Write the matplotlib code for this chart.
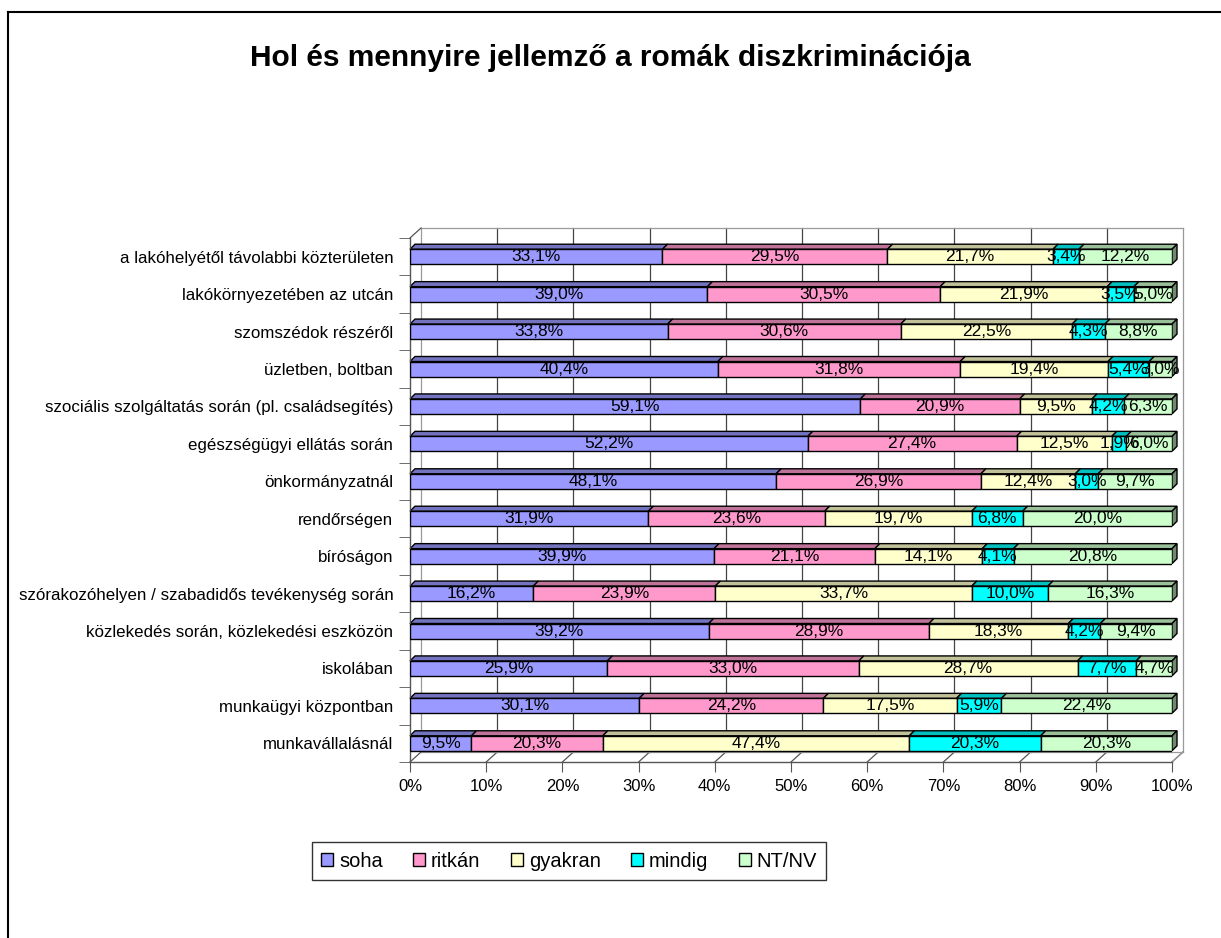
import matplotlib.pyplot as plt
import numpy as np
from matplotlib.patches import Polygon
from matplotlib.lines import Line2D

plt.rcParams['font.family'] = ['Liberation Sans', 'DejaVu Sans']

categories = [
    "a lakóhelyétől távolabbi közterületen",
    "lakókörnyezetében az utcán",
    "szomszédok részéről",
    "üzletben, boltban",
    "szociális szolgáltatás során (pl. családsegítés)",
    "egészségügyi ellátás során",
    "önkormányzatnál",
    "rendőrségen",
    "bíróságon",
    "szórakozóhelyen / szabadidős tevékenység során",
    "közlekedés során, közlekedési eszközön",
    "iskolában",
    "munkaügyi központban",
    "munkavállalásnál",
]
series = ["soha", "ritkán", "gyakran", "mindig", "NT/NV"]
soha = [33.1, 39.0, 33.8, 40.4, 59.1, 52.2, 48.1, 31.9, 39.9, 16.2, 39.2, 25.9, 30.1, 9.5]
ritkan = [29.5, 30.5, 30.6, 31.8, 20.9, 27.4, 26.9, 23.6, 21.1, 23.9, 28.9, 33.0, 24.2, 20.3]
gyakran = [21.7, 21.9, 22.5, 19.4, 9.5, 12.5, 12.4, 19.7, 14.1, 33.7, 18.3, 28.7, 17.5, 47.4]
mindig = [3.4, 3.5, 4.3, 5.4, 4.2, 1.9, 3.0, 6.8, 4.1, 10.0, 4.2, 7.7, 5.9, 20.3]
ntnv = [12.2, 5.0, 8.8, 3.0, 6.3, 6.0, 9.7, 20.0, 20.8, 16.3, 9.4, 4.7, 22.4, 20.3]

colors = ["#9999FF", "#FF99CC", "#FFFFCC", "#00FFFF", "#CCFFCC"]
top_colors = ["#7373c0", "#c07399", "#c0c099", "#00c0c0", "#99c099"]
side_color = "#6f8a6f"

W, H = 1221, 938
fig = plt.figure(figsize=(W / 100, H / 100), dpi=100)

# plot area in pixels (front plane)
x0p, x1p, y0p, y1p = 410, 1172, 238, 762
ax = fig.add_axes([x0p / W, (H - y1p) / H, (x1p - x0p) / W, (y1p - y0p) / H])
n = len(categories)
ax.set_xlim(0, 100)
ax.set_ylim(-0.5, n - 0.5)

# pixel -> data conversion
px_x = 100 / (x1p - x0p)
px_y = n / (y1p - y0p)
wall_dx, wall_dy = 11 * px_x, 10 * px_y
bar_d = 5

data = np.array([soha, ritkan, gyakran, mindig, ntnv])
pct = data / data.sum(axis=0) * 100
ypos = np.arange(n)[::-1]
bh = 15 * px_y

# back wall, floor, left wall
xt = np.arange(0, 101, 10)
ylo, yhi = -0.5, n - 0.5
for x in xt:
    c = "#9a9a9a" if x in (0, 100) else "#444444"
    ax.plot([x + wall_dx, x + wall_dx], [ylo + wall_dy, yhi + wall_dy], color=c, lw=0.9, clip_on=False, zorder=1)
    ax.plot([x, x + wall_dx], [ylo, ylo + wall_dy], color="#555555", lw=0.9, clip_on=False, zorder=1)
ax.plot([wall_dx, 100 + wall_dx], [yhi + wall_dy, yhi + wall_dy], color="#9a9a9a", lw=0.9, clip_on=False, zorder=1)
ax.plot([wall_dx, 100 + wall_dx], [ylo + wall_dy, ylo + wall_dy], color="#9a9a9a", lw=0.9, clip_on=False, zorder=1)
ax.plot([0, wall_dx], [yhi, yhi + wall_dy], color="#555555", lw=0.9, clip_on=False, zorder=1)
ax.plot([100, 100 + wall_dx], [ylo, ylo + wall_dy], color="#9a9a9a", lw=0.9, clip_on=False, zorder=1)

# 3D stacked bars
dx, dy = bar_d * px_x, bar_d * px_y
left = np.zeros(n)
for k in range(len(series)):
    w = pct[k]
    ax.barh(ypos, w, left=left, height=bh, color=colors[k], edgecolor="black", lw=1, zorder=3,
            label=series[k])
    for i in range(n):
        xa, xb = left[i], left[i] + w[i]
        yt = ypos[i] + bh / 2
        ax.add_patch(Polygon([[xa, yt], [xb, yt], [xb + dx, yt + dy], [xa + dx, yt + dy]],
                             closed=True, fc=top_colors[k], ec="black", lw=1, zorder=2, clip_on=False))
        if k == len(series) - 1:
            yb = ypos[i] - bh / 2
            ax.add_patch(Polygon([[xb, yb], [xb, yt], [xb + dx, yt + dy], [xb + dx, yb + dy]],
                                 closed=True, fc=side_color, ec="black", lw=1, zorder=2, clip_on=False))
        ax.text(xa + w[i] / 2, ypos[i], f"{data[k][i]:.1f}%".replace(".", ","),
                ha="center", va="center", fontsize=12.5, zorder=5, clip_on=False)
    left = left + w

# axes styling
for s in ["top", "right"]:
    ax.spines[s].set_visible(False)
for s in ["left", "bottom"]:
    ax.spines[s].set_color("#555555")
    ax.spines[s].set_linewidth(1)
ax.set_xticks(xt)
ax.set_xticklabels([f"{x}%" for x in xt], fontsize=12)
ax.tick_params(axis="x", length=7, color="#555555", pad=5)
ax.set_yticks(ypos)
ax.set_yticklabels(categories, fontsize=12.2)
ax.tick_params(axis="y", which="major", length=0, pad=12)
ax.set_yticks(np.arange(-0.5, n, 1), minor=True)
ax.tick_params(axis="y", which="minor", length=8, color="#555555")
ax.set_facecolor("none")

fig.text(0.5, 1 - 58 / H, "Hol és mennyire jellemző a romák diszkriminációja",
         ha="center", va="center", fontsize=21.5, fontweight="bold")

ax.legend(loc="center", bbox_to_anchor=(569 / W, 1 - 861 / H), bbox_transform=fig.transFigure,
          ncol=5, frameon=True, fancybox=False, edgecolor="black", fontsize=14.5,
          handlelength=0.6, handleheight=0.6, handletextpad=0.3, columnspacing=1.5,
          borderpad=0.45)

# figure border (left and top visible)
fig.add_artist(Line2D([8 / W, 8 / W], [0, 1 - 12 / H], color="black", lw=1.5))
fig.add_artist(Line2D([8 / W, 1], [1 - 12 / H, 1 - 12 / H], color="black", lw=1.5))

fig.savefig("out.png", dpi=100)
